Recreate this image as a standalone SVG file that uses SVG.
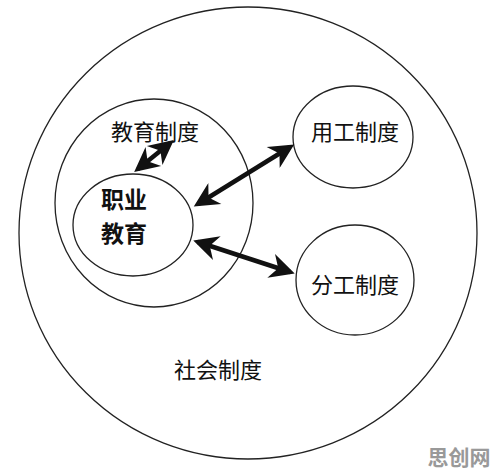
<svg xmlns="http://www.w3.org/2000/svg" width="496" height="474" viewBox="0 0 496 474">
<defs>
<style>
.c{fill:none;stroke:#222;stroke-width:1.3}
.t{font-family:"Liberation Sans","Noto Sans CJK SC",sans-serif;font-size:22px;fill:#111;text-anchor:middle}
.b{font-weight:bold;font-size:23px}
.a{stroke:#111;stroke-width:4.5;fill:none;marker-start:url(#h);marker-end:url(#h)}
</style>
<marker id="h" viewBox="0 0 10 10" refX="8" refY="5" markerWidth="6" markerHeight="5.5" orient="auto-start-reverse" markerUnits="strokeWidth">
<path d="M0,0 L10,5 L0,10 L3,5 Z" fill="#111"/>
</marker>
</defs>
<rect width="496" height="474" fill="#fff"/>
<g id="society">
<ellipse class="c" cx="248" cy="233" rx="229" ry="226"/>
<text class="t" x="218" y="378">社会制度</text>
</g>
<g id="education-system">
<ellipse class="c" cx="154" cy="203" rx="99" ry="104" stroke="#555"/>
<text class="t" x="155" y="140">教育制度</text>
</g>
<g id="vocational-education">
<ellipse class="c" cx="133" cy="225" rx="60" ry="51"/>
<text class="t b" x="124" y="208">职业</text>
<text class="t b" x="124" y="242">教育</text>
</g>
<g id="employment-system">
<ellipse class="c" cx="353" cy="137" rx="60" ry="51"/>
<text class="t" x="355" y="140">用工制度</text>
</g>
<g id="division-system">
<ellipse class="c" cx="355" cy="280" rx="59" ry="55"/>
<text class="t" x="355" y="293">分工制度</text>
</g>
<g id="connectors">
<line class="a" x1="138" y1="169" x2="170" y2="143"/>
<line class="a" x1="198" y1="204" x2="290" y2="147"/>
<line class="a" x1="198" y1="242" x2="290" y2="272"/>
</g>
<text x="459" y="465" font-family="'Noto Sans CJK SC',sans-serif" font-size="21" font-weight="bold" fill="#999" text-anchor="middle">思创网</text>
</svg>
